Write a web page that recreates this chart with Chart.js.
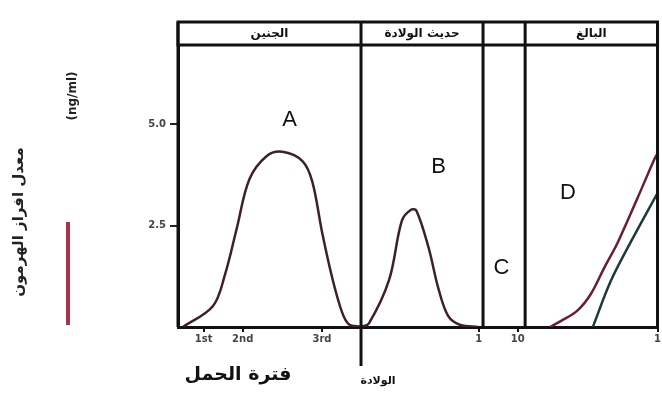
<!DOCTYPE html>
<html>
<head>
<meta charset="utf-8">
<script src="https://cdn.jsdelivr.net/npm/chart.js@4/dist/chart.umd.min.js"></script>
<style>
  html, body { margin: 0; padding: 0; background: #fff; overflow: hidden; }
  #wrap { width: 662px; height: 396px; }
</style>
</head>
<body>
<div id="wrap"><canvas id="hormoneChart" width="662" height="396"></canvas></div>
<script>
// Period segments (x in trimester-sized units) and their header names
const segBounds = [0, 3, 5, 5.69, 7.86];
const segNames = ['الجنين', 'حديث الولادة', '', 'البالغ'];

// x tick labels
const xTickPos = [0.42, 1.06, 2.36, 4.93, 5.57, 7.86];
const xTickText = ['1st', '2nd', '3rd', '1', '10', '1'];
const yTickText = ['2.5', '5.0'];

// Curve A - fetus
const fetusX = [0.08, 0.57, 0.77, 0.96, 1.17, 1.45, 1.71, 2.04, 2.20, 2.36, 2.53, 2.69, 2.80, 3.0];
const fetusY = [0, 0.51, 1.29, 2.41, 3.64, 4.21, 4.32, 4.09, 3.59, 2.35, 1.20, 0.36, 0.07, 0];

// Curve B - newborn
const newbornX = [3.0, 3.13, 3.46, 3.67, 3.82, 3.91, 4.11, 4.27, 4.43, 4.63, 4.92];
const newbornY = [0, 0.09, 1.16, 2.62, 2.89, 2.86, 1.94, 0.94, 0.27, 0.05, 0];

// Curve D - adult (two lines)
const adultRedX = [6.10, 6.28, 6.55, 6.77, 6.99, 7.21, 7.53, 7.81, 7.86];
const adultRedY = [0, 0.15, 0.41, 0.82, 1.47, 2.09, 3.17, 4.14, 4.27];
const adultTealX = [6.80, 7.09, 7.42, 7.86];
const adultTealY = [0, 1.12, 2.09, 3.30];

// Letter labels on the curves
const letterText = ['A', 'B', 'C', 'D'];
const letterX = [1.83, 4.27, 5.30, 6.39];
const letterY = [5.1, 3.95, 1.45, 3.3];

function toPoints(xs, ys) {
    return xs.map((x, i) => ({ x: x, y: ys[i] }));
}

const arabicFont = "'DejaVu Sans', sans-serif";

// Draws header band, period dividers, labels and the side legend
const decorPlugin = {
    id: 'decor',
    afterDraw(chart) {
        const ctx = chart.ctx;
        const xs = chart.scales.x;
        const ys = chart.scales.y;
        const area = chart.chartArea;
        const headTop = 22;

        ctx.save();
        ctx.strokeStyle = '#111';
        ctx.lineWidth = 3;

        // header box
        ctx.strokeRect(area.left, headTop, area.right - area.left, area.top - headTop);

        // segment dividers
        segBounds.forEach((b, i) => {
            const px = xs.getPixelForValue(b);
            ctx.beginPath();
            ctx.moveTo(px, headTop);
            ctx.lineTo(px, i === 1 ? 366 : area.bottom);
            ctx.stroke();
        });

        // header names
        ctx.fillStyle = '#111';
        ctx.font = 'bold 12px ' + arabicFont;
        ctx.textAlign = 'center';
        ctx.textBaseline = 'middle';
        ctx.direction = 'rtl';
        segNames.forEach((name, i) => {
            if (!name) return;
            const cx = (xs.getPixelForValue(segBounds[i]) + xs.getPixelForValue(segBounds[i + 1])) / 2;
            ctx.fillText(name, cx, (headTop + area.top) / 2);
        });

        // curve letters
        ctx.direction = 'ltr';
        ctx.fillStyle = '#111';
        ctx.font = '22px "Liberation Sans", Arial, sans-serif';
        letterText.forEach((t, i) => {
            ctx.fillText(t, xs.getPixelForValue(letterX[i]), ys.getPixelForValue(letterY[i]));
        });

        // bottom labels
        ctx.direction = 'rtl';
        ctx.font = 'bold 19px ' + arabicFont;
        ctx.fillText('فترة الحمل', 238, 375);
        ctx.font = 'bold 11px ' + arabicFont;
        ctx.fillText('الولادة', 378, 381);

        // y axis title (rotated)
        ctx.save();
        ctx.translate(19, 222);
        ctx.rotate(-Math.PI / 2);
        ctx.font = 'bold 15px ' + arabicFont;
        ctx.fillStyle = '#222';
        ctx.fillText('معدل افراز الهرمون', 0, 0);
        ctx.restore();

        // unit (rotated)
        ctx.save();
        ctx.translate(73, 96);
        ctx.rotate(-Math.PI / 2);
        ctx.direction = 'ltr';
        ctx.font = 'bold 12px ' + arabicFont;
        ctx.fillStyle = '#222';
        ctx.fillText('(ng/ml)', 0, 0);
        ctx.restore();

        // legend line
        ctx.strokeStyle = '#a8344a';
        ctx.lineWidth = 4;
        ctx.beginPath();
        ctx.moveTo(68, 222);
        ctx.lineTo(68, 325);
        ctx.stroke();

        ctx.restore();
    }
};

const curveStyle = {
    borderWidth: 2.5,
    pointRadius: 0,
    fill: false,
    tension: 0.35
};

const ctx = document.getElementById('hormoneChart').getContext('2d');
const hormoneChart = new Chart(ctx, {
    type: 'line',
    data: {
        datasets: [
            Object.assign({ label: 'A', data: toPoints(fetusX, fetusY), borderColor: '#3e2128' }, curveStyle),
            Object.assign({ label: 'B', data: toPoints(newbornX, newbornY), borderColor: '#3e2128' }, curveStyle),
            Object.assign({ label: 'D1', data: toPoints(adultRedX, adultRedY), borderColor: '#6a1f30' }, curveStyle),
            Object.assign({ label: 'D2', data: toPoints(adultTealX, adultTealY), borderColor: '#1c3a3c' }, curveStyle)
        ]
    },
    options: {
        responsive: false,
        animation: false,
        layout: {
            padding: { left: 128, right: 2, top: 45, bottom: 47 }
        },
        plugins: {
            legend: { display: false },
            tooltip: { enabled: false }
        },
        scales: {
            x: {
                type: 'linear',
                min: segBounds[0],
                max: segBounds[segBounds.length - 1],
                afterFit: s => { s.height = 22; },
                afterBuildTicks: s => { s.ticks = xTickPos.map(v => ({ value: v })); },
                border: { color: '#111', width: 3 },
                grid: { drawOnChartArea: false, drawTicks: true, tickLength: 5, color: '#111', lineWidth: 2 },
                ticks: {
                    autoSkip: false,
                    maxRotation: 0,
                    padding: 1,
                    color: '#444',
                    font: { family: "'DejaVu Sans', sans-serif", size: 10, weight: 'bold' },
                    callback: (v, i) => xTickText[i]
                }
            },
            y: {
                min: 0,
                max: 6.95,
                afterFit: s => { s.width = 50; },
                afterBuildTicks: s => { s.ticks = [{ value: 2.5 }, { value: 5 }]; },
                border: { color: '#111', width: 3 },
                grid: { drawOnChartArea: false, drawTicks: true, tickLength: 8, color: '#222', lineWidth: 2 },
                ticks: {
                    padding: 4,
                    color: '#444',
                    font: { family: "'DejaVu Sans', sans-serif", size: 10, weight: 'bold' },
                    callback: (v, i) => yTickText[i]
                }
            }
        }
    },
    plugins: [decorPlugin]
});
</script>
</body>
</html>
